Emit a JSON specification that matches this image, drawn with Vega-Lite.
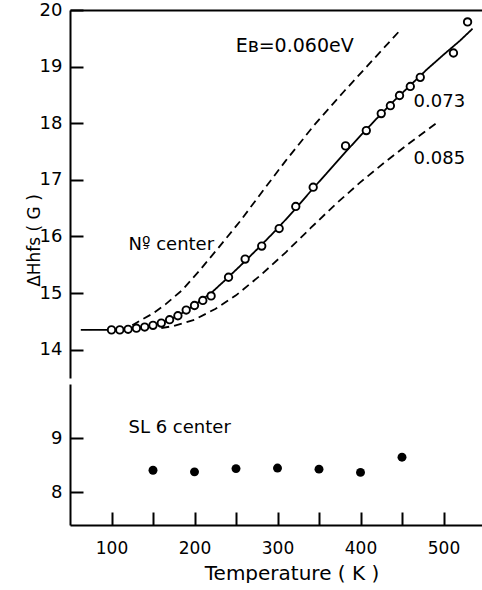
{
  "$schema": "https://vega.github.io/schema/vega-lite/v6.json",
  "padding": {"top": 1, "left": 25, "right": 0, "bottom": 0},
  "config": {
    "view": {"stroke": null},
    "font": "DejaVu Sans",
    "axis": {
      "domainColor": "black", "domainWidth": 2, "tickColor": "black", "tickWidth": 2,
      "labelColor": "black", "titleColor": "black", "grid": false,
      "labelFont": "DejaVu Sans", "titleFont": "DejaVu Sans", "titleFontWeight": "normal"
    }
  },
  "datasets": {
    "curves": [
      {"curve": "0.073", "T": 63, "H": 14.35}, {"curve": "0.073", "T": 100, "H": 14.35},
      {"curve": "0.073", "T": 120, "H": 14.36}, {"curve": "0.073", "T": 140, "H": 14.40},
      {"curve": "0.073", "T": 160, "H": 14.47}, {"curve": "0.073", "T": 180, "H": 14.60},
      {"curve": "0.073", "T": 200, "H": 14.79}, {"curve": "0.073", "T": 220, "H": 15.00},
      {"curve": "0.073", "T": 240, "H": 15.27}, {"curve": "0.073", "T": 260, "H": 15.55},
      {"curve": "0.073", "T": 280, "H": 15.84}, {"curve": "0.073", "T": 300, "H": 16.14},
      {"curve": "0.073", "T": 320, "H": 16.46}, {"curve": "0.073", "T": 340, "H": 16.80},
      {"curve": "0.073", "T": 360, "H": 17.13}, {"curve": "0.073", "T": 380, "H": 17.46},
      {"curve": "0.073", "T": 400, "H": 17.78}, {"curve": "0.073", "T": 420, "H": 18.09},
      {"curve": "0.073", "T": 440, "H": 18.39}, {"curve": "0.073", "T": 460, "H": 18.67},
      {"curve": "0.073", "T": 480, "H": 18.95}, {"curve": "0.073", "T": 500, "H": 19.21},
      {"curve": "0.073", "T": 520, "H": 19.46}, {"curve": "0.073", "T": 535, "H": 19.67},
      {"curve": "0.060", "T": 125, "H": 14.43}, {"curve": "0.060", "T": 135, "H": 14.52},
      {"curve": "0.060", "T": 150, "H": 14.64}, {"curve": "0.060", "T": 165, "H": 14.80},
      {"curve": "0.060", "T": 185, "H": 15.05}, {"curve": "0.060", "T": 205, "H": 15.38},
      {"curve": "0.060", "T": 230, "H": 15.82}, {"curve": "0.060", "T": 255, "H": 16.27},
      {"curve": "0.060", "T": 280, "H": 16.76}, {"curve": "0.060", "T": 310, "H": 17.34},
      {"curve": "0.060", "T": 345, "H": 17.98}, {"curve": "0.060", "T": 380, "H": 18.56},
      {"curve": "0.060", "T": 415, "H": 19.12}, {"curve": "0.060", "T": 447, "H": 19.63},
      {"curve": "0.085", "T": 160, "H": 14.38}, {"curve": "0.085", "T": 175, "H": 14.42},
      {"curve": "0.085", "T": 200, "H": 14.53}, {"curve": "0.085", "T": 225, "H": 14.72},
      {"curve": "0.085", "T": 250, "H": 14.96}, {"curve": "0.085", "T": 280, "H": 15.32},
      {"curve": "0.085", "T": 310, "H": 15.72}, {"curve": "0.085", "T": 340, "H": 16.15},
      {"curve": "0.085", "T": 370, "H": 16.57}, {"curve": "0.085", "T": 400, "H": 16.96},
      {"curve": "0.085", "T": 430, "H": 17.32}, {"curve": "0.085", "T": 460, "H": 17.66},
      {"curve": "0.085", "T": 493, "H": 18.02}
    ],
    "ns": [
      {"T": 100, "H": 14.35}, {"T": 110, "H": 14.35}, {"T": 120, "H": 14.36}, {"T": 130, "H": 14.38},
      {"T": 140, "H": 14.40}, {"T": 150, "H": 14.43}, {"T": 160, "H": 14.47}, {"T": 170, "H": 14.53},
      {"T": 180, "H": 14.60}, {"T": 190, "H": 14.70}, {"T": 200, "H": 14.78}, {"T": 210, "H": 14.87},
      {"T": 220, "H": 14.95}, {"T": 241, "H": 15.28}, {"T": 261, "H": 15.60}, {"T": 281, "H": 15.83},
      {"T": 302, "H": 16.14}, {"T": 322, "H": 16.53}, {"T": 343, "H": 16.87}, {"T": 382, "H": 17.60},
      {"T": 407, "H": 17.87}, {"T": 425, "H": 18.17}, {"T": 436, "H": 18.31}, {"T": 447, "H": 18.49},
      {"T": 460, "H": 18.65}, {"T": 472, "H": 18.81}, {"T": 512, "H": 19.24}, {"T": 529, "H": 19.79}
    ],
    "sl6": [
      {"T": 150, "H": 8.41}, {"T": 200, "H": 8.38}, {"T": 250, "H": 8.44}, {"T": 300, "H": 8.45},
      {"T": 350, "H": 8.43}, {"T": 400, "H": 8.37}, {"T": 450, "H": 8.65}
    ]
  },
  "spacing": 6,
  "resolve": {"scale": {"x": "independent", "y": "independent"}},
  "vconcat": [
    {
      "width": 415,
      "height": 368,
      "layer": [
        {
          "data": {"name": "curves"},
          "mark": {"type": "line", "color": "black", "strokeWidth": 1.8},
          "encoding": {
            "x": {"field": "T", "type": "quantitative", "scale": {"domain": [50, 550]},
              "axis": {"orient": "top", "ticks": false, "labels": false, "title": null}},
            "y": {"field": "H", "type": "quantitative", "scale": {"domain": [13.65, 20]},
              "axis": {"values": [14, 15, 16, 17, 18, 19, 20], "format": "d", "tickSize": -13, "labelFontSize": 18,
                "labelPadding": 21, "title": "ΔHhfs ( G )", "titleFontSize": 17,
                "titleX": -27, "titleY": 230}},
            "strokeDash": {"field": "curve", "type": "nominal",
              "scale": {"domain": ["0.060", "0.073", "0.085"], "range": [[8, 5], [1, 0], [8, 5]]},
              "legend": null}
          }
        },
        {
          "data": {"name": "ns"},
          "mark": {"type": "point", "shape": "circle", "filled": true, "fill": "white",
            "stroke": "black", "strokeWidth": 1.9, "size": 55, "opacity": 1},
          "encoding": {
            "x": {"field": "T", "type": "quantitative"},
            "y": {"field": "H", "type": "quantitative"}
          }
        },
        {
          "data": {"values": [{"T": 249.6, "H": 19.26, "text": "Eʙ=0.060eV"}]},
          "mark": {"type": "text", "align": "left", "baseline": "alphabetic", "fontSize": 19, "color": "black"},
          "encoding": {
            "x": {"field": "T", "type": "quantitative"},
            "y": {"field": "H", "type": "quantitative"},
            "text": {"field": "text"}
          }
        },
        {
          "data": {"values": [
            {"T": 464, "H": 18.28, "text": "0.073"},
            {"T": 464, "H": 17.28, "text": "0.085"},
            {"T": 120.5, "H": 15.76, "text": "Nº center"}
          ]},
          "mark": {"type": "text", "align": "left", "baseline": "alphabetic", "fontSize": 18, "color": "black"},
          "encoding": {
            "x": {"field": "T", "type": "quantitative"},
            "y": {"field": "H", "type": "quantitative"},
            "text": {"field": "text"}
          }
        },
        {
          "data": {"values": [{"T": 138.6, "H": 15.78, "text": "s"}]},
          "mark": {"type": "text", "align": "left", "baseline": "alphabetic", "fontSize": 10, "color": "black"},
          "encoding": {
            "x": {"field": "T", "type": "quantitative"},
            "y": {"field": "H", "type": "quantitative"},
            "text": {"field": "text"}
          }
        },
        {
          "mark": {"type": "tick", "orient": "horizontal", "color": "black", "thickness": 2, "size": 9},
          "encoding": {
            "x": {"datum": 50, "type": "quantitative"},
            "y": {"datum": 13.65, "type": "quantitative"}
          }
        }
      ]
    },
    {
      "width": 415,
      "height": 141,
      "layer": [
        {
          "data": {"name": "sl6"},
          "mark": {"type": "circle", "color": "black", "size": 80, "opacity": 1},
          "encoding": {
            "x": {"field": "T", "type": "quantitative", "scale": {"domain": [50, 550]},
              "axis": {"orient": "bottom", "values": [100, 150, 200, 250, 300, 350, 400, 450, 500],
                "labelExpr": "datum.value % 100 === 0 ? datum.label : ''",
                "tickSize": -13,
                "labelFontSize": 17, "labelPadding": 28,
                "title": "Temperature ( K )", "titleFontSize": 20,
                "titleX": 221.5, "titleY": 38, "titleBaseline": "top"}},
            "y": {"field": "H", "type": "quantitative", "scale": {"domain": [7.5, 9.93]},
              "axis": {"values": [8, 9], "format": "d", "tickSize": -13, "labelFontSize": 18, "labelPadding": 21, "title": null}}
          }
        },
        {
          "data": {"values": [{"T": 120.5, "H": 9.10, "text": "SL 6 center"}]},
          "mark": {"type": "text", "align": "left", "baseline": "alphabetic", "fontSize": 18, "color": "black"},
          "encoding": {
            "x": {"field": "T", "type": "quantitative"},
            "y": {"field": "H", "type": "quantitative"},
            "text": {"field": "text"}
          }
        },
        {
          "mark": {"type": "tick", "orient": "horizontal", "color": "black", "thickness": 2, "size": 9},
          "encoding": {
            "x": {"datum": 50, "type": "quantitative"},
            "y": {"datum": 9.93, "type": "quantitative"}
          }
        }
      ]
    }
  ]
}
